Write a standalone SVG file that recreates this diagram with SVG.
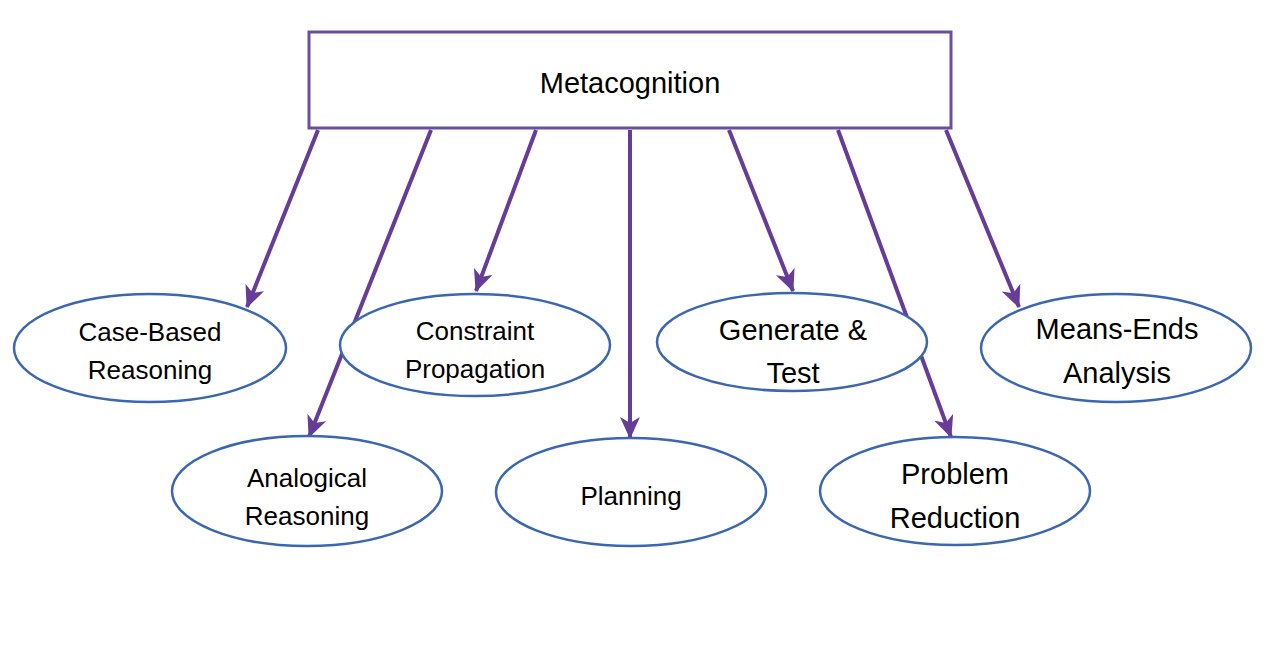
<svg xmlns="http://www.w3.org/2000/svg" width="1264" height="666" viewBox="0 0 1264 666">
<style>
.node ellipse{fill:#fff;stroke:#3a67b0;stroke-width:2.5}
.lbl{font-family:"Liberation Sans",Arial,sans-serif;font-size:26px;fill:#000;text-anchor:middle}
.big{font-size:29px}
.conn line{stroke:#673c96;stroke-width:4}
</style>
<defs>
<marker id="ah" viewBox="0 0 22 20" refX="21" refY="10" markerWidth="22" markerHeight="20" markerUnits="userSpaceOnUse" orient="auto">
<path d="M0,0 L22,10 L0,20 L6,10 Z" fill="#673c96"/>
</marker>
</defs>
<rect width="1264" height="666" fill="#fff"/>
<g id="metacognition">
<rect x="309" y="32" width="642" height="96" fill="#fff" stroke="#6c4e9c" stroke-width="3"/>
<text class="lbl" x="630" y="93" style="font-size:29px">Metacognition</text>
</g>
<g class="conn" id="connectors">
<line x1="318" y1="130" x2="247" y2="307" marker-end="url(#ah)"/>
<line x1="431" y1="130" x2="309" y2="437" marker-end="url(#ah)"/>
<line x1="536" y1="130" x2="476" y2="291" marker-end="url(#ah)"/>
<line x1="630" y1="130" x2="630" y2="438" marker-end="url(#ah)"/>
<line x1="729" y1="130" x2="793" y2="291" marker-end="url(#ah)"/>
<line x1="838" y1="130" x2="951" y2="437" marker-end="url(#ah)"/>
<line x1="946" y1="130" x2="1019" y2="307" marker-end="url(#ah)"/>
</g>
<g class="node" id="case-based">
<ellipse cx="150" cy="348" rx="136" ry="54"/>
<text class="lbl" x="150" y="341">Case-Based</text>
<text class="lbl" x="150" y="379">Reasoning</text>
</g>
<g class="node" id="constraint">
<ellipse cx="475" cy="345" rx="135" ry="51"/>
<text class="lbl" x="475" y="340">Constraint</text>
<text class="lbl" x="475" y="378">Propagation</text>
</g>
<g class="node" id="generate">
<ellipse cx="792" cy="342" rx="135" ry="49"/>
<text class="lbl big" x="793" y="340">Generate &amp;</text>
<text class="lbl big" x="793" y="383">Test</text>
</g>
<g class="node" id="means-ends">
<ellipse cx="1116" cy="348" rx="135" ry="54"/>
<text class="lbl big" x="1117" y="339">Means-Ends</text>
<text class="lbl big" x="1117" y="383">Analysis</text>
</g>
<g class="node" id="analogical">
<ellipse cx="307" cy="491" rx="135" ry="55"/>
<text class="lbl" x="307" y="487">Analogical</text>
<text class="lbl" x="307" y="525">Reasoning</text>
</g>
<g class="node" id="planning">
<ellipse cx="631" cy="492" rx="135" ry="54"/>
<text class="lbl" x="631" y="505">Planning</text>
</g>
<g class="node" id="problem-reduction">
<ellipse cx="955" cy="491" rx="135" ry="54"/>
<text class="lbl big" x="955" y="484">Problem</text>
<text class="lbl big" x="955" y="528">Reduction</text>
</g>
</svg>
